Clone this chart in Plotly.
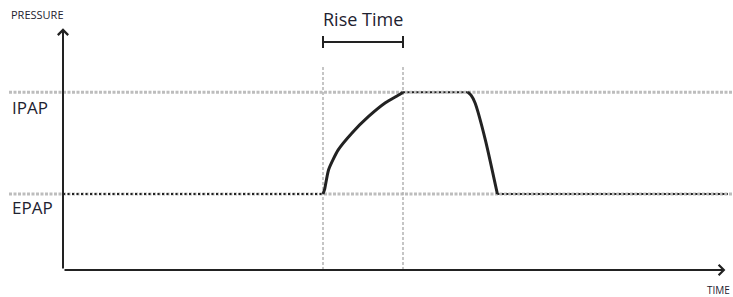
import plotly.graph_objects as go

# ---- data (time in s, pressure in cmH2O) ----
EPAP = 5.0
IPAP = 11.7
rise_start, rise_end = 3.25, 4.25
t_end = 8.31

base1_t = [0.0, 3.25]
base1_p = [5.0, 5.0]
rise_t = [3.25, 3.27, 3.32, 3.44, 3.61, 3.82, 4.03, 4.19, 4.25]
rise_p = [5.0, 5.3, 6.6, 7.9, 9.0, 10.1, 11.0, 11.5, 11.7]
plateau_t = [4.25, 5.06]
plateau_p = [11.7, 11.7]
fall_t = [5.06, 5.10, 5.15, 5.28, 5.43]
fall_p = [11.7, 11.5, 11.0, 8.55, 5.0]
base2_t = [5.43, 8.31]
base2_p = [5.0, 5.0]

bracket_p = 15.0
x_range = [-0.7875, 8.375]
y_range = [-1.776, 17.763]

GRAY = "#bdbdbd"
INK = "#222222"
TXT = "#1e2230"
FONT = "Open Sans"

fig = go.Figure()

# gray reference lines for IPAP / EPAP
for lvl in (IPAP, EPAP):
    fig.add_trace(go.Scatter(x=[-0.675, x_range[1]], y=[lvl, lvl], mode="lines",
                             line=dict(color=GRAY, width=3, dash="3px,1.5px"),
                             hoverinfo="skip", showlegend=False))
# vertical guides for rise time
for tv in (rise_start, rise_end):
    fig.add_trace(go.Scatter(x=[tv, tv], y=[0, 13.42], mode="lines",
                             line=dict(color="#b3b3b3", width=1.5, dash="3px,2px"),
                             hoverinfo="skip", showlegend=False))

# dotted flat parts of the curve
for tt, pp in ((base1_t, base1_p), (plateau_t, plateau_p), (base2_t, base2_p)):
    fig.add_trace(go.Scatter(x=tt, y=pp, mode="lines",
                             line=dict(color=INK, width=2, dash="2px,2.5px"),
                             hoverinfo="skip", showlegend=False))
# solid rise and fall
for tt, pp in ((rise_t, rise_p), (fall_t, fall_p)):
    fig.add_trace(go.Scatter(x=tt, y=pp, mode="lines",
                             line=dict(color=INK, width=3, shape="spline", smoothing=0.6),
                             hoverinfo="skip", showlegend=False))

# rise time bracket
fig.add_trace(go.Scatter(x=[rise_start, rise_end], y=[bracket_p, bracket_p], mode="lines",
                         line=dict(color=INK, width=2), hoverinfo="skip", showlegend=False))
for tv in (rise_start, rise_end):
    fig.add_trace(go.Scatter(x=[tv, tv], y=[bracket_p - 0.4, bracket_p + 0.4], mode="lines",
                             line=dict(color=INK, width=2), hoverinfo="skip", showlegend=False))

annotations = [
    # axes with chevron heads
    dict(x=0, y=15.9, ax=0, ay=0, xref="x", yref="y", axref="x", ayref="y",
         showarrow=True, arrowhead=4, arrowsize=1, arrowwidth=2, arrowcolor=INK, text=""),
    dict(x=8.28, y=0, ax=0, ay=0, xref="x", yref="y", axref="x", ayref="y",
         showarrow=True, arrowhead=4, arrowsize=1, arrowwidth=2, arrowcolor=INK, text=""),
    dict(x=-0.6625, y=16.78, xref="x", yref="y", xanchor="left", yanchor="middle",
         text="PRESSURE", showarrow=False, borderpad=0,
         font=dict(family=FONT, size=11, color=TXT)),
    dict(x=8.35, y=-1.3, xref="x", yref="y", xanchor="right", yanchor="middle",
         text="TIME", showarrow=False, borderpad=0,
         font=dict(family=FONT, size=10, color=TXT)),
    dict(x=-0.6625, y=10.72, xref="x", yref="y", xanchor="left", yanchor="middle",
         text="IPAP", showarrow=False, font=dict(family=FONT, size=17, color=TXT)),
    dict(x=-0.6625, y=4.08, xref="x", yref="y", xanchor="left", yanchor="middle",
         text="EPAP", showarrow=False, font=dict(family=FONT, size=17, color=TXT)),
    dict(x=(rise_start + rise_end) / 2, y=16.5, xref="x", yref="y", xanchor="center",
         yanchor="middle", text="Rise Time", showarrow=False, borderpad=0,
         font=dict(family=FONT, size=18, color=TXT)),
]

fig.update_layout(
    width=733, height=297, autosize=False,
    margin=dict(l=0, r=0, t=0, b=0),
    paper_bgcolor="white", plot_bgcolor="white",
    xaxis=dict(range=x_range, visible=False, fixedrange=True),
    yaxis=dict(range=y_range, visible=False, fixedrange=True),
    annotations=annotations,
    showlegend=False,
)

fig.write_html("out.html",
               config={"displayModeBar": False, "staticPlot": True},
               post_script="document.body.style.margin='0';document.body.style.overflow='hidden';")
